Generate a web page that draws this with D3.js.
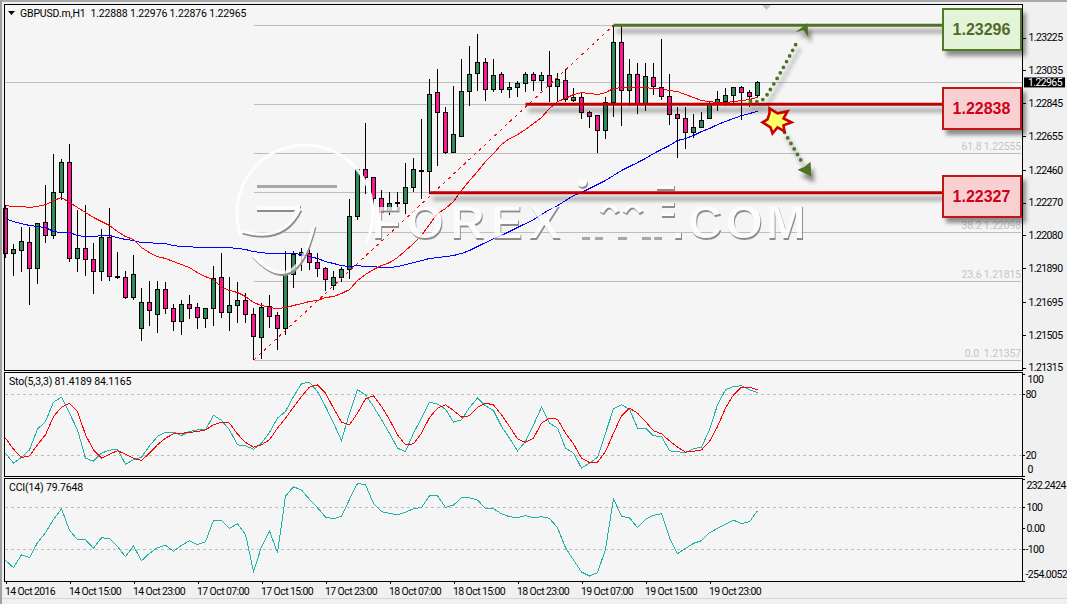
<!DOCTYPE html>
<html>
<head>
<meta charset="utf-8">
<title>GBPUSD H1</title>
<script src="https://cdn.jsdelivr.net/npm/d3@7/dist/d3.min.js"></script>
<style>
  html, body { margin: 0; padding: 0; background: #f0f0f0; overflow: hidden; }
  svg { display: block; }
  text { font-family: Roboto, "Liberation Sans", sans-serif; font-size: 10.5px; fill: #000; letter-spacing: -0.15px; }
  .tick text { letter-spacing: -0.6px; }
</style>
</head>
<body>
<svg id="chart" width="1067" height="604"></svg>
<script>
// Hourly GBPUSD bars, oldest first
const opens = [
  1.22235,1.21975,1.21992,1.22038,1.21888,1.22154,1.22079,1.22328,1.22501,1.21946,
  1.22004,1.21940,1.21870,1.22067,1.21841,1.21836,1.21720,1.21541,1.21691,1.21622,
  1.21766,1.21656,1.21581,1.21680,1.21662,1.21599,1.21656,1.21836,1.21633,1.21674,
  1.21703,1.21622,1.21488,1.21668,1.21616,1.21541,1.21853,1.21963,1.21975,1.21922,
  1.21888,1.21789,1.21836,1.21882,1.22189,1.22461,1.22414,1.22293,1.22218,1.22264,
  1.22264,1.22357,1.22449,1.22449,1.22906,1.22791,1.22559,1.22652,1.22912,1.23016,
  1.23080,1.22924,1.23011,1.22924,1.22935,1.22959,1.23011,1.22976,1.23005,1.22941,
  1.22976,1.22860,1.22878,1.22791,1.22773,1.22687,1.22849,1.23196,1.22918,1.23011,
  1.22843,1.22993,1.22935,1.22883,1.22779,1.22756,1.22675,1.22704,1.22756,1.22843,
  1.22854,1.22889,1.22935,1.22906,1.22888];
const highs = [
  1.22258,1.22032,1.22131,1.22131,1.22154,1.22374,1.22548,1.22519,1.22606,1.22229,
  1.22258,1.22038,1.22114,1.22241,1.21986,1.21876,1.21969,1.21778,1.21818,1.21818,
  1.21807,1.21680,1.21708,1.21737,1.21691,1.21656,1.21905,1.21975,1.21841,1.21807,
  1.21749,1.21662,1.21691,1.21737,1.21639,1.21992,1.21992,1.22009,1.22004,1.21980,
  1.21899,1.21876,1.21899,1.22293,1.22467,1.22733,1.22420,1.22345,1.22328,1.22328,
  1.22496,1.22530,1.22756,1.22987,1.23040,1.22820,1.22947,1.23098,1.23173,1.23248,
  1.23109,1.23098,1.23028,1.22970,1.22976,1.23028,1.23028,1.23028,1.23144,1.23022,
  1.23045,1.22935,1.22912,1.22802,1.22779,1.22878,1.23296,1.23296,1.23098,1.23080,
  1.23080,1.23080,1.23219,1.23016,1.22820,1.22820,1.22785,1.22791,1.22849,1.22918,
  1.22935,1.22941,1.22947,1.22924,1.22976];
const lows = [
  1.21946,1.21847,1.21870,1.21674,1.21801,1.22038,1.22061,1.22287,1.21928,1.21870,
  1.21847,1.21743,1.21813,1.21813,1.21830,1.21714,1.21708,1.21471,1.21558,1.21512,
  1.21622,1.21529,1.21506,1.21593,1.21535,1.21541,1.21558,1.21599,1.21529,1.21575,
  1.21570,1.21357,1.21367,1.21541,1.21419,1.21506,1.21778,1.21876,1.21882,1.21836,
  1.21755,1.21766,1.21807,1.21830,1.22166,1.22322,1.22252,1.22195,1.22195,1.22218,
  1.22206,1.22333,1.22293,1.22322,1.22484,1.22553,1.22559,1.22652,1.22831,1.22918,
  1.22860,1.22912,1.22901,1.22872,1.22878,1.22912,1.22918,1.22918,1.22849,1.22849,
  1.22849,1.22849,1.22756,1.22704,1.22559,1.22640,1.22762,1.22710,1.22831,1.22785,
  1.22797,1.22895,1.22866,1.22721,1.22530,1.22582,1.22646,1.22704,1.22756,1.22802,
  1.22831,1.22837,1.22750,1.22820,1.22876];
const closes = [
  1.21975,1.21998,1.22044,1.21888,1.22148,1.22079,1.22328,1.22501,1.21946,1.22004,
  1.21940,1.21870,1.22067,1.21841,1.21836,1.21720,1.21853,1.21691,1.21645,1.21766,
  1.21656,1.21581,1.21680,1.21656,1.21604,1.21656,1.21830,1.21633,1.21674,1.21703,
  1.21622,1.21494,1.21662,1.21610,1.21541,1.21847,1.21969,1.21980,1.21922,1.21888,
  1.21824,1.21836,1.21882,1.22189,1.22461,1.22414,1.22293,1.22212,1.22264,1.22270,
  1.22357,1.22461,1.22455,1.22895,1.22791,1.22559,1.22663,1.22912,1.23011,1.23080,
  1.22924,1.23005,1.22924,1.22935,1.22959,1.23011,1.22976,1.23005,1.22941,1.22982,
  1.22866,1.22878,1.22791,1.22768,1.22687,1.22849,1.23196,1.22918,1.23011,1.22843,
  1.22999,1.22941,1.22883,1.22779,1.22756,1.22675,1.22704,1.22744,1.22843,1.22866,
  1.22889,1.22935,1.22906,1.22883,1.22965];

// Fast moving average (red) and slow moving average (blue)
const fastMA = [
  1.22252,1.22247,1.22247,1.22241,1.22247,1.22258,1.22281,1.22299,1.22270,1.22241,
  1.22212,1.22183,1.22160,1.22137,1.22102,1.22073,1.22056,1.22009,1.21980,1.21957,
  1.21946,1.21928,1.21911,1.21893,1.21864,1.21841,1.21824,1.21778,1.21761,1.21749,
  1.21726,1.21691,1.21674,1.21662,1.21656,1.21662,1.21674,1.21685,1.21697,1.21703,
  1.21720,1.21726,1.21743,1.21766,1.21818,1.21853,1.21882,1.21905,1.21922,1.21951,
  1.21992,1.22032,1.22079,1.22143,1.22206,1.22235,1.22276,1.22339,1.22397,1.22449,
  1.22507,1.22553,1.22606,1.22640,1.22663,1.22692,1.22727,1.22762,1.22814,1.22854,
  1.22872,1.22895,1.22906,1.22901,1.22895,1.22906,1.22930,1.22935,1.22935,1.22935,
  1.22935,1.22930,1.22930,1.22918,1.22912,1.22895,1.22878,1.22860,1.22854,1.22849,
  1.22849,1.22854,1.22860,1.22866,1.22878];
const slowMA = [
  1.22177,1.22160,1.22148,1.22137,1.22131,1.22125,1.22102,1.22096,1.22096,1.22079,
  1.22073,1.22073,1.22079,1.22079,1.22067,1.22056,1.22050,1.22038,1.22038,1.22032,
  1.22032,1.22021,1.22015,1.22015,1.22009,1.22009,1.22009,1.22009,1.22009,1.22004,
  1.21998,1.21986,1.21980,1.21975,1.21975,1.21975,1.21975,1.21969,1.21957,1.21946,
  1.21928,1.21917,1.21905,1.21899,1.21905,1.21899,1.21899,1.21893,1.21893,1.21899,
  1.21911,1.21922,1.21934,1.21946,1.21951,1.21957,1.21963,1.21975,1.21992,1.22015,
  1.22038,1.22061,1.22079,1.22102,1.22125,1.22148,1.22171,1.22200,1.22229,1.22252,
  1.22281,1.22310,1.22328,1.22351,1.22374,1.22397,1.22426,1.22455,1.22478,1.22501,
  1.22525,1.22553,1.22577,1.22600,1.22629,1.22640,1.22658,1.22681,1.22698,1.22721,
  1.22739,1.22756,1.22773,1.22785,1.22797];

// Stochastic (5,3,3): main and signal lines
const stoMain = [
  22.0,12.1,18.0,25.2,45.6,53.1,72.1,77.0,61.3,44.9,
  17.0,14.1,22.0,24.9,25.9,11.1,15.4,18.0,29.2,38.4,
  42.6,42.6,39.3,43.3,44.9,44.9,59.3,54.1,44.9,30.2,
  29.2,25.9,31.8,42.3,56.4,63.0,77.7,90.2,91.8,82.6,
  67.9,51.5,34.4,61.3,84.3,79.3,67.9,54.8,41.6,26.9,
  23.6,41.6,56.4,72.1,70.2,65.2,52.5,54.8,66.9,76.1,
  68.5,63.9,48.2,36.7,24.3,33.4,49.8,67.2,51.5,46.6,
  26.9,22.0,7.2,12.1,18.0,41.6,65.6,69.5,65.2,46.6,
  46.6,39.0,38.4,24.3,23.3,22.6,26.2,27.9,44.9,69.5,
  84.3,87.5,88.2,84.3,81.4189];
const stoSignal = [
  36.7,25.9,17.7,19.3,30.2,40.0,58.0,67.2,71.1,63.0,
  40.0,25.2,17.0,21.0,24.3,21.0,17.0,14.8,22.0,30.2,
  36.7,41.0,41.6,42.3,43.3,44.9,49.8,52.5,51.5,40.7,
  32.5,27.9,30.2,35.1,46.6,56.4,67.2,77.7,86.9,89.2,
  81.0,66.2,52.5,49.8,61.3,75.4,78.4,67.9,54.8,40.0,
  30.2,31.1,41.6,57.0,66.2,69.5,63.9,57.4,58.7,66.9,
  71.1,69.5,59.7,48.2,36.1,32.5,36.7,51.5,56.4,55.4,
  41.6,31.1,17.0,12.8,13.1,23.6,41.6,58.7,66.2,61.3,
  53.1,43.9,41.0,34.1,27.9,23.0,23.9,25.2,33.4,48.2,
  66.2,79.3,86.9,86.9,84.1165];

// CCI(14)
const cciValues = [
  -155.6,-190.5,-128.6,-142.9,-71.4,-23.8,39.7,90.5,-12.7,-57.1,
  -57.1,-98.4,-47.6,-52.4,-90.5,-138.1,-87.3,-157.1,-122.2,-95.2,
  -84.1,-112.7,-84.1,-61.9,-81.0,-66.7,34.9,34.9,-3.2,19.0,
  -31.7,-209.5,-90.5,-15.9,-119.0,150.8,195.2,179.4,134.9,95.2,
  50.8,42.9,54.0,134.9,211.1,204.8,115.9,76.2,68.3,61.9,
  74.6,90.5,96.8,152.4,152.4,96.8,107.9,142.9,142.9,131.7,
  92.1,90.5,66.7,52.4,47.6,57.1,47.6,52.4,44.4,0.0,
  -95.2,-154.0,-211.1,-230.2,-214.3,-103.2,138.1,54.0,47.6,0.0,
  39.7,58.7,66.7,-47.6,-123.8,-98.4,-74.6,-61.9,-23.8,-3.2,
  15.9,36.5,19.0,28.6,79.7648];

// Axis ticks and labels
const priceTicks = [1.23225,1.23035,1.22845,1.22655,1.22460,1.22270,1.22080,1.21890,1.21695,1.21505,1.21315];
const stoTicks = [100,80,20,0];
const cciTicks = [232.2424,100,0,-100,-254.0052];
const timeTickBars = [0,8,16,24,32,40,48,56,64,72,80,88];
const timeTickLabels = ["14 Oct 2016","14 Oct 15:00","14 Oct 23:00","17 Oct 07:00","17 Oct 15:00","17 Oct 23:00",
                        "18 Oct 07:00","18 Oct 15:00","18 Oct 23:00","19 Oct 07:00","19 Oct 15:00","19 Oct 23:00"];

// Fibonacci retracement of the swing low to swing high
const fibLevels = [0.0,23.6,38.2,50.0,61.8,76.4,100.0];
const fibPrices = [1.21357,1.21815,1.22098,1.22327,1.22555,1.22838,1.23296];
const fibShownLabels = ["0.0  1.21357","23.6 1.21815","38.2 1.22098",null,"61.8 1.22555",null,null];
const fibStartBar = 31;
const fibEndBar = 76;

// Trade levels with their tags
const levelPrices = [1.23296,1.22838,1.22327];
const levelStartBars = [76,65,53];
const levelKinds = ["target","pivot","support"];
const bidPrice = 1.22965;

const barCount = opens.length;
for (const a of [highs,lows,closes,fastMA,slowMA,stoMain,stoSignal,cciValues]) {
  if (a.length !== barCount) throw new Error("series length " + a.length + " != " + barCount);
}

const frameL = 4.5, frameR = 1022.5;
const x = d3.scaleLinear().domain([0, barCount - 1]).range([5.5, 757.5]);
const y = d3.scaleLinear().domain([1.21315, 1.23225]).range([367.5, 37.5]);
const yS = d3.scaleLinear().domain([0, 100]).range([475.5, 373.8]);
const yC = d3.scaleLinear().domain([-254.0052, 232.2424]).range([581, 479]);

const svg = d3.select("#chart");
const defs = svg.append("defs");

// Soft shadow shared by the tags
const shadow = defs.append("filter").attr("id","shade")
  .attr("x","-20%").attr("y","-60%").attr("width","140%").attr("height","300%")
  .attr("filterUnits","objectBoundingBox");
shadow.append("feDropShadow").attr("dx",4).attr("dy",5).attr("stdDeviation",2.2)
  .attr("flood-color","#000").attr("flood-opacity",0.42);

// Thin wide rules need the filter region in user units
const lineShadow = defs.append("filter").attr("id","lineShade").attr("filterUnits","userSpaceOnUse")
  .attr("x",0).attr("y",0).attr("width",1067).attr("height",604);
lineShadow.append("feDropShadow").attr("dx",3).attr("dy",6).attr("stdDeviation",2)
  .attr("flood-color","#000").attr("flood-opacity",0.45);

// Embossed look of the watermark: pale body, light top-left edge, grey bottom-right edge
const emb = defs.append("filter").attr("id","emboss").attr("filterUnits","userSpaceOnUse")
  .attr("x",0).attr("y",0).attr("width",1067).attr("height",604);
emb.append("feOffset").attr("in","SourceAlpha").attr("dx",-1.4).attr("dy",-1.8).attr("result","up");
emb.append("feComposite").attr("in","SourceAlpha").attr("in2","up").attr("operator","out").attr("result","darkEdge");
emb.append("feFlood").attr("flood-color","#ffffff").attr("flood-opacity",0.75).attr("result","white");
emb.append("feFlood").attr("flood-color","#8c8c8c").attr("result","grey");
emb.append("feComposite").attr("in","white").attr("in2","SourceAlpha").attr("operator","in").attr("result","w");
emb.append("feComposite").attr("in","grey").attr("in2","darkEdge").attr("operator","in").attr("result","g");
emb.append("feGaussianBlur").attr("in","g").attr("stdDeviation",0.4).attr("result","gs");
const m = emb.append("feMerge");
m.append("feMergeNode").attr("in","w");
m.append("feMergeNode").attr("in","gs");

// Window and plot backgrounds
svg.append("rect").attr("width",1067).attr("height",604).attr("fill","#f0f0f0");
svg.append("rect").attr("x",0).attr("y",0).attr("width",1067).attr("height",2).attr("fill","#a8a8a8");
svg.append("rect").attr("x",0).attr("y",0).attr("width",2).attr("height",604).attr("fill","#a0a0a0");
svg.append("rect").attr("x",2).attr("y",598).attr("width",1065).attr("height",1).attr("fill","#d8d8d8");
svg.append("rect").attr("x",frameL).attr("y",4.5).attr("width",frameR-frameL).attr("height",577).attr("fill","#f5f5f5");

// Main pane: fib levels, bid line
const fibG = svg.append("g").attr("shape-rendering","crispEdges");
fibG.selectAll("line").data(fibPrices).join("line")
  .attr("x1",x(fibStartBar)).attr("x2",1021)
  .attr("y1",d=>y(d)).attr("y2",d=>y(d))
  .attr("stroke","#bdbdbd");
svg.append("line").attr("x1",frameL).attr("x2",frameR).attr("y1",y(bidPrice)).attr("y2",y(bidPrice))
  .attr("stroke","#bdbdbd").attr("shape-rendering","crispEdges");
svg.append("g").selectAll("text").data(fibPrices.map((p,i)=>({p,t:fibShownLabels[i]})).filter(d=>d.t)).join("text")
  .attr("x",1021).attr("y",d=>y(d.p)-3).attr("text-anchor","end")
  .style("fill","#c4c4c4").style("white-space","pre").text(d=>d.t);

// Candlesticks
const bars = d3.range(barCount);
const candles = svg.append("g").attr("shape-rendering","crispEdges");
candles.selectAll("line").data(bars).join("line")
  .attr("x1",i=>x(i)).attr("x2",i=>x(i))
  .attr("y1",i=>y(highs[i])).attr("y2",i=>y(lows[i]))
  .attr("stroke","#000");
candles.selectAll("rect").data(bars).join("rect")
  .attr("x",i=>x(i)-2).attr("width",4)
  .attr("y",i=>y(Math.max(opens[i],closes[i])))
  .attr("height",i=>Math.max(1,Math.abs(y(opens[i])-y(closes[i]))))
  .attr("fill",i=>closes[i]>=opens[i]?"#2e8b57":"#ff1493")
  .attr("stroke","#000");

// Moving averages
const priceLine = d3.line().x((d,i)=>x(i)).y(d=>y(d));
svg.append("path").attr("d",priceLine(slowMA)).attr("fill","none").attr("stroke","#0000ff").attr("shape-rendering","crispEdges");
svg.append("path").attr("d",priceLine(fastMA)).attr("fill","none").attr("stroke","#ff0000").attr("shape-rendering","crispEdges");

// Fib trend line
svg.append("line")
  .attr("x1",x(fibStartBar)).attr("y1",y(fibPrices[0]))
  .attr("x2",x(fibEndBar)).attr("y2",y(fibPrices[6]))
  .attr("stroke","#ff0000").attr("stroke-dasharray","3 4").attr("shape-rendering","crispEdges");

// Watermark logo and lettering
const wmRing = svg.append("path")
  .attr("d","M241 236 A68 68 0 1 1 366 243")
  .attr("fill","none").attr("stroke","#ffffff").attr("stroke-width",3).attr("stroke-opacity",0.9);
const wm = svg.append("g").attr("filter","url(#emboss)").attr("fill","#000");
wm.append("rect").attr("x",257).attr("y",206).attr("width",44).attr("height",6);
wm.append("path").attr("d","M243 232 Q284 244 300 210").attr("fill","none").attr("stroke","#000").attr("stroke-width",5);
wm.append("path").attr("d","M254 256 Q296 302 314 227").attr("fill","none").attr("stroke","#000").attr("stroke-width",5);
const wmType = [["FOREX",372,240,48,6],[".COM",672,240,48,3]];
wm.selectAll("text").data(wmType).join("text")
  .attr("x",d=>d[1]).attr("y",d=>d[2])
  .style("font-family","'Liberation Sans',sans-serif")
  .style("font-weight","700")
  .style("font-size",d=>d[3]+"px")
  .style("letter-spacing",d=>d[4]+"px")
  .style("fill","#000")
  .text(d=>d[0]);
wm.append("path").attr("d","M602 214 Q610 200 618 214 M625 214 Q633 200 642 214").attr("fill","none").attr("stroke","#000").attr("stroke-width",5);
wm.append("rect").attr("x",657).attr("y",186).attr("width",18).attr("height",5);
wm.append("rect").attr("x",662).attr("y",203).attr("width",13).attr("height",5);
wm.append("rect").attr("x",662).attr("y",213).attr("width",13).attr("height",5);
wm.append("circle").attr("cx",583).attr("cy",184).attr("r",5);
const wmBars = svg.append("g").attr("fill","#a8a8a8");
wmBars.append("rect").attr("x",257).attr("y",185).attr("width",80).attr("height",3);
for (const [bx,bw] of [[582,8],[595,8],[618,9],[642,9],[654,8]]) {
  wmBars.append("rect").attr("x",bx).attr("y",237).attr("width",bw).attr("height",3);
}

// Trade levels
const levelColor = {target:"#4f7226",pivot:"#c00000",support:"#c00000"};
const levels = svg.append("g");
levels.selectAll("line").data(levelPrices).join("line")
  .attr("x1",(d,i)=>x(levelStartBars[i])).attr("x2",943)
  .attr("y1",d=>y(d)).attr("y2",d=>y(d))
  .attr("stroke",(d,i)=>levelColor[levelKinds[i]]).attr("stroke-width",3)
  .attr("filter","url(#lineShade)");

// Dotted scenario arrows leaving the last bar
const lastX = x(barCount-1), lastY = y(closes[barCount-1]);
const dottedGreen = "#4f7226";
const upCurve = d3.line().curve(d3.curveCatmullRom);
const upEnd = [lastX+41, y(levelPrices[0])+14];
const arrows = svg.append("g").attr("filter","url(#lineShade)");
arrows.append("path")
  .attr("d",upCurve([[lastX-7,lastY+19],[lastX+4,lastY+18],[lastX+16,lastY+2],upEnd]))
  .attr("fill","none").attr("stroke",dottedGreen).attr("stroke-width",3.8)
  .attr("stroke-linecap","round").attr("stroke-dasharray","0 6.4");
const tipUp = [lastX+50, y(levelPrices[0])-2];
arrows.append("polygon").attr("fill",dottedGreen)
  .attr("points",[[tipUp[0],tipUp[1]],[tipUp[0]+1,tipUp[1]+14],[tipUp[0]-4,tipUp[1]+7],[tipUp[0]-12,tipUp[1]+9]].join(" "));
arrows.append("path")
  .attr("d",`M${lastX+27} ${y(levelPrices[1])+28} L${lastX+46} ${y(levelPrices[2])-28}`)
  .attr("fill","none").attr("stroke",dottedGreen).attr("stroke-width",3.8)
  .attr("stroke-linecap","round").attr("stroke-dasharray","0 6.4");
const tipDown = [lastX+54, y(levelPrices[2])-16];
arrows.append("polygon").attr("fill",dottedGreen)
  .attr("points",[[tipDown[0],tipDown[1]],[tipDown[0]-14,tipDown[1]-7],[tipDown[0]-7,tipDown[1]-10],[tipDown[0]-1,tipDown[1]-15]].join(" "));

// Breakout burst on the pivot level, given as offsets from its centre
const burstOffsets = [[-7,-14],[1,-9],[11,-11],[7,-4],[15,0],[7,3],[8,9],[1,5],[-4,11],[-6,5],[-14,0],[-9,-3],[-7,-9]];
const burstX = lastX+19, burstY = y(levelPrices[1])+18;
svg.append("polygon").attr("points",burstOffsets.map(o=>[burstX+o[0],burstY+o[1]]).join(" "))
  .attr("fill","#ffff66").attr("stroke","#c80000").attr("stroke-width",2.6).attr("stroke-linejoin","miter");

// Level tags
const tagStyle = {
  target:{fill:"#e4f4d8",stroke:"#4f7a28",ink:"#4f6b2a"},
  pivot:{fill:"#f9d0d2",stroke:"#c01818",ink:"#d0001a"},
  support:{fill:"#f9d0d2",stroke:"#c01818",ink:"#d0001a"}
};
const tags = svg.append("g").selectAll("g").data(levelPrices).join("g")
  .attr("transform",(d,i)=>`translate(943,${[9,88,176][i]})`);
tags.append("rect").attr("width",78).attr("height",41)
  .attr("fill",(d,i)=>tagStyle[levelKinds[i]].fill)
  .attr("stroke",(d,i)=>tagStyle[levelKinds[i]].stroke).attr("stroke-width",2)
  .attr("filter","url(#shade)");
tags.append("text").attr("x",38.5).attr("y",26).attr("text-anchor","middle")
  .style("font-family","'Liberation Sans',sans-serif").style("font-weight","700").style("font-size","16px")
  .style("letter-spacing","0").style("fill",(d,i)=>tagStyle[levelKinds[i]].ink)
  .text(d=>d.toFixed(5));

// Stochastic pane
const sto = d3.line().x((d,i)=>x(i)).y(d=>yS(d));
svg.append("g").selectAll("line").data([80,20]).join("line")
  .attr("x1",frameL).attr("x2",frameR).attr("y1",d=>Math.round(yS(d))+.5).attr("y2",d=>Math.round(yS(d))+.5)
  .attr("stroke","#bdbdbd").attr("stroke-dasharray","3 3").attr("shape-rendering","crispEdges");
svg.append("path").attr("d",sto(stoMain)).attr("fill","none").attr("stroke","#20b2aa").attr("shape-rendering","crispEdges");
svg.append("path").attr("d",sto(stoSignal)).attr("fill","none").attr("stroke","#ff0000").attr("shape-rendering","crispEdges");

// CCI pane
const cci = d3.line().x((d,i)=>x(i)).y(d=>yC(d));
svg.append("g").selectAll("line").data([100,-100]).join("line")
  .attr("x1",frameL).attr("x2",frameR).attr("y1",d=>Math.round(yC(d))+.5).attr("y2",d=>Math.round(yC(d))+.5)
  .attr("stroke","#bdbdbd").attr("stroke-dasharray","3 3").attr("shape-rendering","crispEdges");
svg.append("path").attr("d",cci(cciValues)).attr("fill","none").attr("stroke","#20b2aa").attr("shape-rendering","crispEdges");

// Pane borders
const borders = svg.append("g").attr("stroke","#000").attr("shape-rendering","crispEdges").attr("fill","none");
borders.append("rect").attr("x",frameL).attr("y",4.5).attr("width",frameR-frameL).attr("height",366);
borders.append("rect").attr("x",frameL).attr("y",372.5).attr("width",frameR-frameL).attr("height",104);
borders.append("rect").attr("x",frameL).attr("y",478.5).attr("width",frameR-frameL).attr("height",102.5);

// Axes
function styleAxis(g){
  g.select(".domain").remove();
  g.selectAll(".tick line").attr("stroke","#000").attr("shape-rendering","crispEdges");
  g.selectAll(".tick text").attr("fill","#000");
}
const axisPrice = svg.append("g").attr("transform",`translate(${frameR},0)`)
  .call(d3.axisRight(y).tickValues(priceTicks).tickFormat(d3.format(".5f")).tickSize(3).tickPadding(3));
styleAxis(axisPrice);

const axisSto = svg.append("g").attr("transform",`translate(${frameR},0)`)
  .call(d3.axisRight(yS).tickValues(stoTicks).tickSize(2).tickPadding(1));
styleAxis(axisSto);
// Labels at the pane limits sit just inside it
axisSto.selectAll(".tick text")
  .attr("dy",d=>d===100?"8.8px":(d===0?"-2.8px":"0.32em"))
  .attr("dx",d=>(d===100||d===0)?2:0);

const cciFormat = d=>(d===232.2424||d===-254.0052)?d.toFixed(4):(d===0?"0.00":String(d));
const axisCci = svg.append("g").attr("transform",`translate(${frameR},0)`)
  .call(d3.axisRight(yC).tickValues(cciTicks).tickFormat(cciFormat).tickSize(2).tickPadding(1));
styleAxis(axisCci);
axisCci.selectAll(".tick text")
  .attr("dy",d=>d===232.2424?"9.7px":(d===-254.0052?"-3.3px":"0.32em"))
  .attr("dx",d=>d<0?0:1);

const axisTime = svg.append("g").attr("transform","translate(0,581)")
  .call(d3.axisBottom(x).tickValues(timeTickBars).tickFormat((d,i)=>timeTickLabels[i]).tickSize(3).tickPadding(2.5));
styleAxis(axisTime);
axisTime.selectAll(".tick text").attr("text-anchor","start").attr("dx",-1).attr("dy","0.85em");

// Current price flag
svg.append("rect").attr("x",1024).attr("y",y(bidPrice)-5).attr("width",41).attr("height",10).attr("fill","#000");
svg.append("text").attr("x",1028).attr("y",y(bidPrice)+3.7).style("fill","#fff").style("letter-spacing","-0.6px").text(bidPrice.toFixed(5));

// Pane captions
svg.append("polygon").attr("points","8,11 15,11 11.5,15").attr("fill","#000");
svg.append("text").attr("x",20).attr("y",16.5).style("white-space","pre").text("GBPUSD.m,H1  1.22888 1.22976 1.22876 1.22965");
svg.append("text").attr("x",9).attr("y",385).text("Sto(5,3,3) 81.4189 84.1165");
svg.append("text").attr("x",9).attr("y",491).text("CCI(14) 79.7648");

// Small marker on the top border
svg.append("polygon").attr("points","762,5 771,5 766.5,10").attr("fill","#c4c4c4");
</script>
</body>
</html>
